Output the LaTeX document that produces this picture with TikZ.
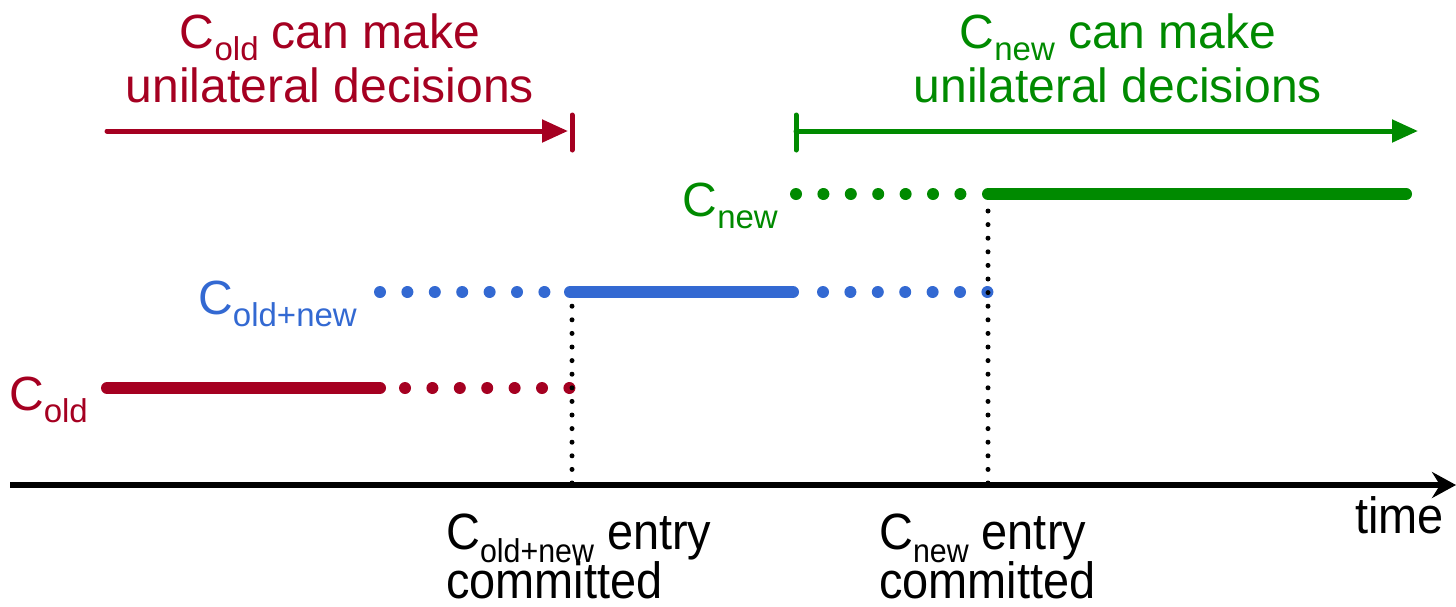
\documentclass[tikz,border=0pt]{standalone}
\usepackage{fontspec}
\setmainfont{Liberation Sans}
\usetikzlibrary{arrows.meta}
\definecolor{cred}{RGB}{165,0,33}
\definecolor{cblue}{RGB}{51,105,210}
\definecolor{cgreen}{RGB}{0,138,0}
\newcommand\lowsub[1]{\raisebox{-0.26em}{\fontsize{33}{33}\selectfont #1}}
\begin{document}
\begin{tikzpicture}[x=1pt,y=-1pt,
  solidseg/.style={line width=12pt,line cap=round},
  dotseg/.style={line width=12pt,line cap=round,dash pattern=on 0pt off 27.4pt},
  vdots/.style={line width=5pt,line cap=round,dash pattern=on 0pt off 13.6pt},
  span/.style={line width=5pt,line cap=round},
  bigtext/.style={font=\fontsize{48}{53}\selectfont,inner sep=0pt,anchor=base,text depth=0pt},
  lowtext/.style={font=\fontsize{51}{50}\selectfont,inner sep=0pt,xscale=0.92,anchor=base west,text depth=0pt},
  rowlabel/.style={font=\fontsize{48}{53}\selectfont,inner sep=0pt,anchor=base east}]
\useasboundingbox (0,0) rectangle (1456,606);
% top labels
\node[bigtext,text=cred] (oldlbl) at (330,48) {C\lowsub{old} can make};
\node[bigtext,text=cred] (oldlbl2) at (330,102) {unilateral decisions};
\node[bigtext,text=cgreen] (newlbl) at (1118,48) {C\lowsub{new} can make};
\node[bigtext,text=cgreen] (newlbl2) at (1118,102) {unilateral decisions};
% range arrows
\coordinate (ra) at (107,131); \coordinate (rb) at (568,131);
\coordinate (rbt) at (572,115); \coordinate (rbb) at (572,150);
\draw[span,cred,-{Triangle[length=26pt,width=22pt]}] (ra) -- (rb);
\draw[span,cred] (rbt) -- (rbb);
\coordinate (ga) at (796,131); \coordinate (gb) at (1418,131);
\coordinate (gbt) at (796,115); \coordinate (gbb) at (796,150);
\draw[span,cgreen,-{Triangle[length=26pt,width=22pt]}] (ga) -- (gb);
\draw[span,cgreen] (gbt) -- (gbb);
% rows
\node[rowlabel,text=cgreen] (lnew) at (778,216) {C\lowsub{new}};
\node[rowlabel,text=cblue] (lon) at (357,314) {C\lowsub{old+new}};
\node[rowlabel,text=cred] (lold) at (88,410) {C\lowsub{old}};
% C_new
\coordinate (n1) at (796,194); \coordinate (n2) at (961,194);
\coordinate (n3) at (988,194); \coordinate (n4) at (1406,194);
\draw[dotseg,cgreen] (n1) -- (n2);
\draw[solidseg,cgreen] (n3) -- (n4);
% C_old+new
\coordinate (b1) at (380,292); \coordinate (b2) at (545,292);
\coordinate (b3) at (570,292); \coordinate (b4) at (793,292);
\coordinate (b5) at (823,292); \coordinate (b6) at (988,292);
\draw[dotseg,cblue] (b1) -- (b2);
\draw[solidseg,cblue] (b3) -- (b4);
\draw[dotseg,cblue] (b5) -- (b6);
% C_old
\coordinate (o1) at (107,388); \coordinate (o2) at (380,388);
\coordinate (o3) at (405,388); \coordinate (o4) at (570,388);
\draw[solidseg,cred] (o1) -- (o2);
\draw[dotseg,cred] (o3) -- (o4);
% vertical dotted lines
\coordinate (v1t) at (572,306); \coordinate (v1b) at (572,483);
\coordinate (v2t) at (988,205); \coordinate (v2b) at (988,483);
\draw[vdots,black] (v1b) -- (v1t);
\draw[vdots,black] (v2b) -- (v2t);
% time axis
\coordinate (t0) at (10,485); \coordinate (t1) at (1456,485);
\draw[line width=6pt,-{Stealth[length=24pt,width=26pt,inset=8pt]}] (t0) -- (t1);
\node[lowtext,anchor=base east] (tlbl) at (1444,533) {time};
% bottom labels
\node[lowtext] (c1) at (446,549) {C\lowsub{old+new} entry};
\node[lowtext] (c1b) at (446,598) {committed};
\node[lowtext] (c2) at (879,549) {C\lowsub{new} entry};
\node[lowtext] (c2b) at (879,598) {committed};
\end{tikzpicture}
\end{document}
